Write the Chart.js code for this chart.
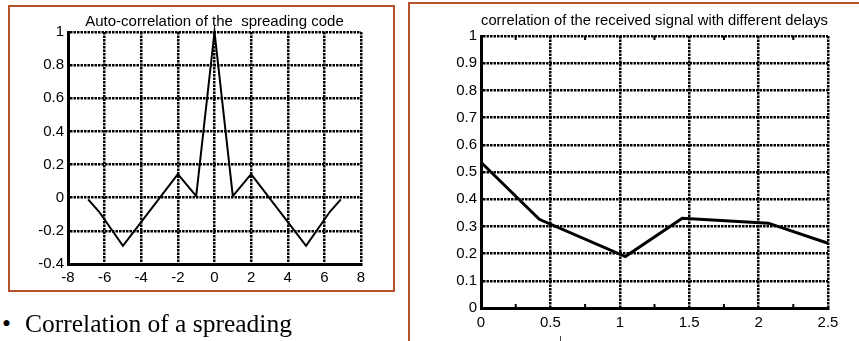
<!DOCTYPE html>
<html>
<head>
<meta charset="utf-8">
<script src="https://cdn.jsdelivr.net/npm/chart.js@4/dist/chart.umd.min.js"></script>
<style>
  html, body { margin: 0; padding: 0; background: #fff; width: 859px; height: 341px; overflow: hidden; position: relative; }
  .box { position: absolute; box-sizing: border-box; border: 2px solid #b5522b; }
  .wrap { position: absolute; }
  .bullet { position: absolute; font-family: 'Liberation Serif', 'Times New Roman', serif; font-size: 25.5px; line-height: normal; color: #000; white-space: nowrap; }
</style>
</head>
<body>
<div class="box" style="left:8px;top:5px;width:387px;height:287px;"></div>
<div class="box" style="left:408px;top:2px;width:460px;height:360px;"></div>
<div class="wrap" style="left:0px;top:0px;width:380px;height:290px;"><canvas id="c1"></canvas></div>
<div class="wrap" style="left:411px;top:4px;width:448px;height:337px;"><canvas id="c2"></canvas></div>
<div class="bullet" style="left:2px;top:309px;">•</div>
<div class="bullet" style="left:25px;top:309px;">Correlation of a spreading</div>
<div style="position:absolute;left:560px;top:336px;width:1px;height:5px;background:#444;"></div>
<script>
// ---- Data: left chart (auto-correlation of the spreading code) ----
const autoLag = [-6.9, -6.3, -5, -2, -1, 0, 1, 2, 5, 6.3, 6.9];
const autoCorr = [-0.01, -0.085, -0.29, 0.143, 0.01, 1, 0.01, 0.143, -0.29, -0.085, -0.01];
const autoXTicks = ['-8', '-6', '-4', '-2', '0', '2', '4', '6', '8'];
const autoYTicks = ['-0.4', '-0.2', '0', '0.2', '0.4', '0.6', '0.8', '1'];

// ---- Data: right chart (correlation with different delays) ----
const delay = [0, 0.42, 1.04, 1.45, 2.07, 2.5];
const delayCorr = [0.536, 0.326, 0.189, 0.330, 0.312, 0.238];
const delayXTicks = ['0', '0.5', '1', '1.5', '2', '2.5'];
const delayYTicks = ['0', '0.1', '0.2', '0.3', '0.4', '0.5', '0.6', '0.7', '0.8', '0.9', '1'];
const delayMinorTicks = [0.25, 0.75, 1.25, 1.75, 2.25];

const FONT = "'Liberation Sans', Arial, sans-serif";
Chart.defaults.font.family = FONT;
Chart.defaults.color = '#000';
Chart.defaults.animation = false;

function toPoints(xs, ys) { return xs.map((x, i) => ({ x: x, y: ys[i] })); }

const minorTickPlugin = {
  id: 'minorTicks',
  afterDatasetsDraw(chart, args, opts) {
    if (!opts || !opts.values) return;
    const ctx = chart.ctx, xs = chart.scales.x, a = chart.chartArea;
    ctx.save();
    ctx.strokeStyle = '#000';
    ctx.lineWidth = 2;
    ctx.beginPath();
    opts.values.forEach(v => {
      const px = xs.getPixelForValue(v);
      ctx.moveTo(px, a.bottom); ctx.lineTo(px, a.bottom - 4);
      ctx.moveTo(px, a.top); ctx.lineTo(px, a.top + 4);
    });
    ctx.stroke();
    ctx.restore();
  }
};

function axis(min, max, step, labels, fitSize, isX, pad) {
  return {
    type: 'linear',
    min: min, max: max,
    afterFit: s => { if (isX) s.height = fitSize; else s.width = fitSize; },
    ticks: {
      stepSize: step,
      autoSkip: false,
      maxRotation: 0,
      padding: pad,
      font: { size: 15, family: FONT },
      color: '#000',
      callback: (v, i) => labels[i]
    },
    grid: { color: '#000', lineWidth: 2.5, drawTicks: false },
    border: { display: true, color: '#000', width: 3, dash: [2.5, 1] }
  };
}

new Chart(document.getElementById('c1'), {
  type: 'line',
  data: { datasets: [{ data: toPoints(autoLag, autoCorr), borderColor: '#000', borderWidth: 2, pointRadius: 0, tension: 0, clip: false }] },
  options: {
    responsive: true, maintainAspectRatio: false,
    layout: { padding: { left: 0, right: 19, top: 0, bottom: 0 } },
    plugins: {
      legend: { display: false }, tooltip: { enabled: false },
      title: { display: true, fullSize: false, text: 'Auto-correlation of the  spreading code', color: '#000',
               font: { size: 15, family: FONT, weight: 'normal' }, padding: { top: 13, bottom: 1 } }
    },
    scales: {
      x: axis(-8, 8, 2, autoXTicks, 26, true, 5),
      y: axis(-0.4, 1, 0.2, autoYTicks, 68, false, 4)
    }
  }
});

new Chart(document.getElementById('c2'), {
  type: 'line',
  data: { datasets: [{ data: toPoints(delay, delayCorr), borderColor: '#000', borderWidth: 3, pointRadius: 0, tension: 0, clip: false }] },
  options: {
    responsive: true, maintainAspectRatio: false,
    layout: { padding: { left: 0, right: 31, top: 0, bottom: 0 } },
    plugins: {
      legend: { display: false }, tooltip: { enabled: false },
      title: { display: true, fullSize: false, text: 'correlation of the received signal with different delays', color: '#000',
               font: { size: 15, family: FONT, weight: 'normal' }, padding: { top: 8, bottom: 6 } },
      minorTicks: { values: delayMinorTicks }
    },
    scales: {
      x: axis(0, 2.5, 0.5, delayXTicks, 33, true, 6),
      y: axis(0, 1, 0.1, delayYTicks, 70, false, 4)
    }
  },
  plugins: [minorTickPlugin]
});
</script>
</body>
</html>
